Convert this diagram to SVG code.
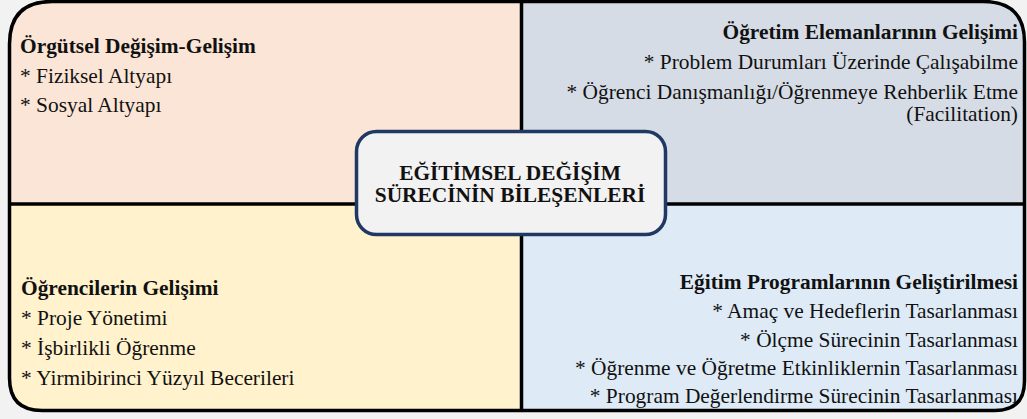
<svg xmlns="http://www.w3.org/2000/svg" width="1027" height="419" viewBox="0 0 1027 419">
  <style>
    text { font-family: "Liberation Serif", Tinos, "Times New Roman", serif; font-size: 21.4px; fill: #111111; }
    .b { font-weight: bold; }
    .r { text-anchor: end; }
    .c { text-anchor: middle; }
    .edge { fill: none; stroke: #000000; stroke-width: 3.5; }
  </style>
  <rect x="0" y="0" width="1027" height="419" fill="#f2f2f2"/>

  <!-- quadrant: organisational change -->
  <g id="q-orgutsel">
    <path d="M9.5,204 V44 Q9.5,1.5 52,1.5 H521.5 V204 Z" fill="#fbe5d6"/>
    <text class="b" x="20" y="53">Örgütsel Değişim-Gelişim</text>
    <text x="20" y="83">* Fiziksel Altyapı</text>
    <text x="20" y="112">* Sosyal Altyapı</text>
  </g>

  <!-- quadrant: academic staff -->
  <g id="q-ogretim">
    <path d="M521.5,1.5 H983 Q1024.5,1.5 1024.5,42 V204 H521.5 Z" fill="#d6dce5"/>
    <text class="b r" x="1018" y="39">Öğretim Elemanlarının Gelişimi</text>
    <text class="r" x="1018" y="69">* Problem Durumları Üzerinde Çalışabilme</text>
    <text class="r" x="1018" y="99">* Öğrenci Danışmanlığı/Öğrenmeye Rehberlik Etme</text>
    <text class="r" x="1018" y="121">(Facilitation)</text>
  </g>

  <!-- quadrant: students -->
  <g id="q-ogrenci">
    <path d="M9.5,204 H521.5 V410.5 H42 Q9.5,410.5 9.5,378 Z" fill="#fff2cc"/>
    <text class="b" x="21" y="295">Öğrencilerin Gelişimi</text>
    <text x="21" y="325">* Proje Yönetimi</text>
    <text x="21" y="355">* İşbirlikli Öğrenme</text>
    <text x="21" y="385">* Yirmibirinci Yüzyıl Becerileri</text>
  </g>

  <!-- quadrant: curriculum -->
  <g id="q-program">
    <path d="M521.5,204 H1024.5 V381 Q1024.5,410.5 995,410.5 H521.5 Z" fill="#deebf7"/>
    <text class="b r" x="1018" y="289">Eğitim Programlarının Geliştirilmesi</text>
    <text class="r" x="1018" y="318">* Amaç ve Hedeflerin Tasarlanması</text>
    <text class="r" x="1018" y="347">* Ölçme Sürecinin Tasarlanması</text>
    <text class="r" x="1018" y="375">* Öğrenme ve Öğretme Etkinliklernin Tasarlanması</text>
    <text class="r" x="1018" y="403">* Program Değerlendirme Sürecinin Tasarlanması</text>
  </g>

  <!-- outer frame and dividing lines -->
  <g id="frame">
    <path class="edge" d="M52,1.5 H983 Q1024.5,1.5 1024.5,42 V381 Q1024.5,410.5 995,410.5 H42 Q9.5,410.5 9.5,378 V44 Q9.5,1.5 52,1.5 Z"/>
    <line class="edge" x1="521.5" y1="1.5" x2="521.5" y2="410.5" stroke-width="4"/>
    <line class="edge" x1="9.5" y1="204" x2="1024.5" y2="204" stroke-width="4"/>
  </g>

  <!-- central title -->
  <g id="center">
    <rect x="356.5" y="131.5" width="309" height="103" rx="20" ry="20" fill="#f2f2f2" stroke="#1f3864" stroke-width="3.5"/>
    <text class="b c" x="510" y="180">EĞİTİMSEL DEĞİŞİM</text>
    <text class="b c" x="510" y="202">SÜRECİNİN BİLEŞENLERİ</text>
  </g>
</svg>
